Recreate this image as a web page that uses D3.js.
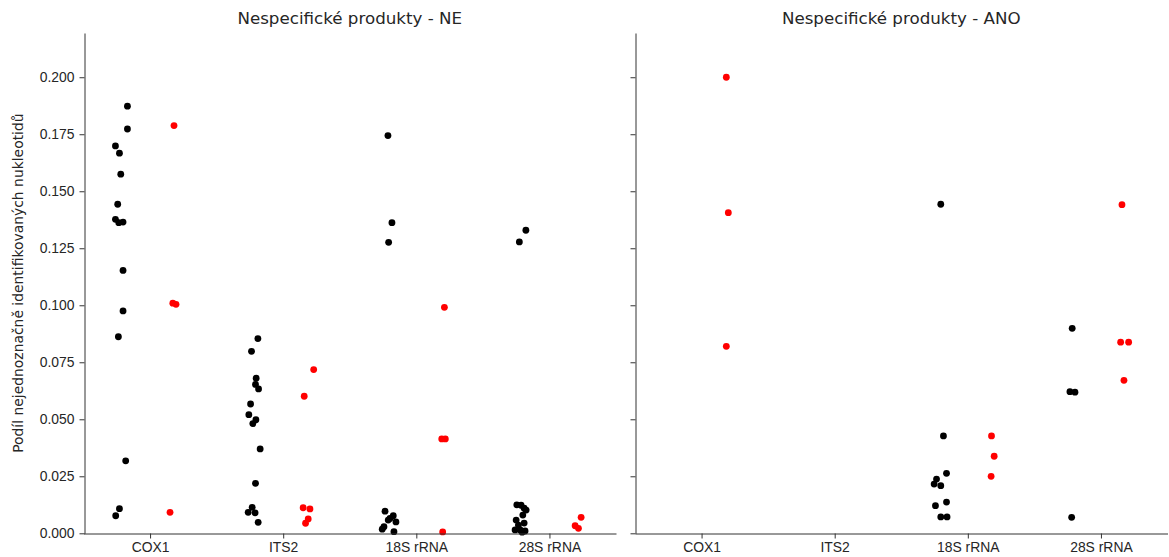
<!DOCTYPE html>
<html>
<head>
<meta charset="utf-8">
<script src="https://cdn.jsdelivr.net/npm/d3@7"></script>
<style>
	body { margin: 0; background: #fff; }
	svg { display: block; font-family: 'DejaVu Sans', sans-serif; }
</style>
</head>
<body>
<svg id="chart" width="1169" height="557"></svg>
<script>
// categories and ticks
const categories = ['COX1', 'ITS2', '18S rRNA', '28S rRNA']
const panelTitles = ['Nespecifické produkty - NE', 'Nespecifické produkty - ANO']
const yTicks = [0, 0.025, 0.05, 0.075, 0.1, 0.125, 0.15, 0.175, 0.2]
const hueColors = ['#000000', '#ff0000']

// each point: [category index, value, jitter (category units)]
const neBlack = [
	[0, 0.1873, 0.03], [0, 0.1773, 0.03], [0, 0.1699, -0.06], [0, 0.1667, -0.03], [0, 0.1575, -0.02],
	[0, 0.1443, -0.043], [0, 0.1377, -0.06], [0, 0.1362, -0.035], [0, 0.1365, -0.003], [0, 0.1153, -0.003],
	[0, 0.0975, -0.003], [0, 0.0862, -0.038], [0, 0.0318, 0.017], [0, 0.0108, -0.03], [0, 0.0077, -0.058],
	[1, 0.0854, 0.01], [1, 0.0798, -0.038], [1, 0.068, -0.003], [1, 0.0653, -0.008], [1, 0.0633, 0.015],
	[1, 0.0567, -0.045], [1, 0.052, -0.058], [1, 0.0498, -0.005], [1, 0.0481, -0.028], [1, 0.037, 0.027],
	[1, 0.0219, -0.008], [1, 0.0114, -0.033], [1, 0.0092, -0.063], [1, 0.009, -0.011], [1, 0.0048, 0.012],
	[2, 0.1744, -0.013], [2, 0.1362, 0.017], [2, 0.1276, -0.008], [2, 0.0097, -0.035], [2, 0.0077, 0.027],
	[2, 0.0065, 0.002], [2, 0.0058, -0.011], [2, 0.005, 0.047], [2, 0.0029, -0.043], [2, 0.0018, -0.056],
	[2, 0.0007, 0.032],
	[3, 0.1329, 0.023], [3, 0.1278, -0.026], [3, 0.0125, -0.045], [3, 0.0123, -0.013], [3, 0.011, 0.01],
	[3, 0.0102, 0.025], [3, 0.008, 0], [3, 0.0058, -0.05], [3, 0.0045, 0.01], [3, 0.0036, -0.033],
	[3, 0.0015, -0.058], [3, 0.001, 0.017], [3, 0.0015, -0.02], [3, 0.0005, -0.005]
]
const neRed = [
	[0, 0.1788, -0.02], [0, 0.1009, -0.029], [0, 0.1004, -0.005], [0, 0.0092, -0.05],
	[1, 0.0718, 0.029], [1, 0.0601, -0.042], [1, 0.0112, -0.05], [1, 0.0107, 0.001], [1, 0.0063, -0.012], [1, 0.0044, -0.032],
	[2, 0.0991, 0.011], [2, 0.0414, -0.009], [2, 0.0414, 0.018], [2, 0.0006, -0.002],
	[3, 0.007, 0.038], [3, 0.0033, -0.007], [3, 0.0022, 0.018]
]
const anoBlack = [
	[2, 0.1443, -0.003], [2, 0.0427, 0.017], [2, 0.0263, 0.04], [2, 0.0238, -0.035], [2, 0.0216, -0.053],
	[2, 0.0209, -0.003], [2, 0.0137, 0.04], [2, 0.0121, -0.043], [2, 0.0072, -0.003], [2, 0.0072, 0.044],
	[3, 0.0899, -0.016], [3, 0.0621, -0.033], [3, 0.0619, 0.005], [3, 0.007, -0.02]
]
const anoRed = [
	[0, 0.2, -0.014], [0, 0.1406, 0.001], [0, 0.082, -0.014],
	[2, 0.0427, -0.022], [2, 0.0338, -0.002], [2, 0.025, -0.025],
	[3, 0.1441, -0.042], [3, 0.0838, -0.052], [3, 0.0838, 0.008], [3, 0.0671, -0.027]
]

const panels = [
	{ title: panelTitles[0], series: [neBlack, neRed], left: 83.5, labels: true },
	{ title: panelTitles[1], series: [anoBlack, anoRed], left: 635, labels: false }
]

const svg = d3.select('#chart')
const plotTop = 33
const plotBottom = 533.3
const panelWidth = 532.5
const textColor = '#262626'

//Shared y scale for both facets
const y = d3.scaleLinear().domain([0, 0.2194]).range([plotBottom, plotTop])

function styleAxis(g) {
	g.select('.domain').attr('stroke', '#333').attr('stroke-width', 1)
	g.selectAll('.tick line').attr('stroke', '#333')
	g.selectAll('.tick text').attr('fill', textColor).style('font-size', '13.9px')
}

panels.forEach(p => {
	const x = d3.scaleLinear().domain([-0.5, 3.5]).range([p.left, p.left + panelWidth])

	const g = svg.append('g')

	//Points, hue dodged by +-0.2
	p.series.forEach((pts, h) => {
		const offset = h == 0 ? -0.2 : 0.2
		g.append('g')
			.selectAll('circle')
			.data(pts)
			.enter()
			.append('circle')
			.attr('cx', d => x(d[0] + offset + d[2]))
			.attr('cy', d => y(d[1]))
			.attr('r', 3.4)
			.attr('fill', hueColors[h])
	})

	const yAxis = g
		.append('g')
		.attr('transform', 'translate(' + Math.round(p.left) + '.5,0)')
		.call(
			d3.axisLeft(y)
				.tickValues(yTicks)
				.tickFormat(p.labels ? d3.format('.3f') : '')
				.tickSize(5)
				.tickSizeOuter(0)
				.tickPadding(5)
		)
	styleAxis(yAxis)

	const xAxis = g
		.append('g')
		.attr('transform', 'translate(0,' + (Math.round(plotBottom) + 0.5) + ')')
		.call(
			d3.axisBottom(x)
				.tickValues(d3.range(categories.length))
				.tickFormat(i => categories[i])
				.tickSize(5)
				.tickSizeOuter(0)
				.tickPadding(4)
		)
	styleAxis(xAxis)

	g.append('text')
		.attr('x', p.left + panelWidth / 2)
		.attr('y', 24)
		.attr('text-anchor', 'middle')
		.attr('fill', textColor)
		.style('font-size', '16.7px')
		.text(p.title)
})

//Y axis label
svg.append('text')
	.attr('transform', 'translate(23,' + (plotTop + plotBottom) / 2 + ') rotate(-90)')
	.attr('text-anchor', 'middle')
	.attr('fill', textColor)
	.style('font-size', '13.9px')
	.text('Podíl nejednoznačně identifikovaných nukleotidů')
</script>
</body>
</html>
